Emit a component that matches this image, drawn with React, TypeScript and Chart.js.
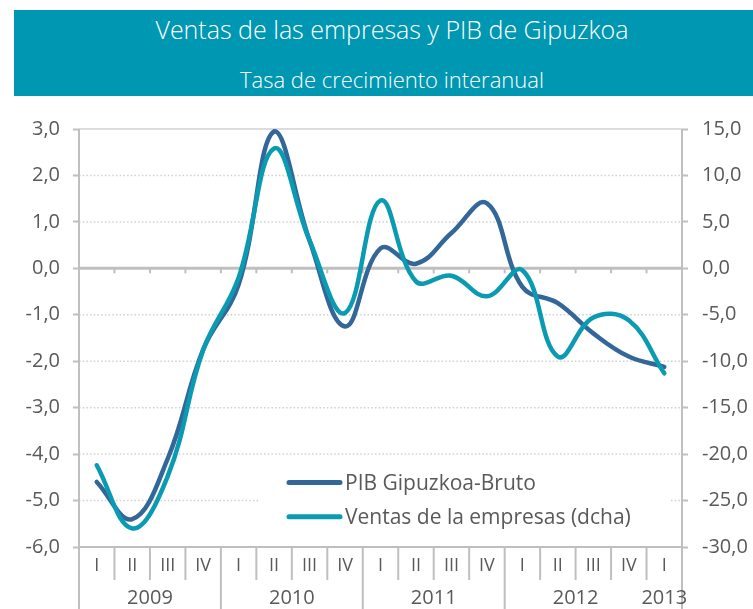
import React, { useEffect, useRef } from 'react';
import { Chart, registerables } from 'chart.js';

Chart.register(...registerables);

// ---- data ----
const quarters = ['I', 'II', 'III', 'IV', 'I', 'II', 'III', 'IV', 'I', 'II', 'III', 'IV', 'I', 'II', 'III', 'IV', 'I'];
const years = ['2009', '2010', '2011', '2012', '2013'];
const yearSpans = [4, 4, 4, 4, 1];
const pibGipuzkoa = [-4.6, -5.4, -4.1, -1.75, -0.35, 2.95, 0.6, -1.25, 0.43, 0.1, 0.76, 1.4, -0.4, -0.75, -1.4, -1.9, -2.12];
const ventasEmpresas = [-21.2, -28.0, -22.4, -8.8, -1.0, 12.9, 3.0, -4.8, 7.3, -1.4, -0.8, -3.0, -0.2, -9.5, -5.3, -5.6, -11.3];
const seriesNames = ['PIB Gipuzkoa-Bruto', 'Ventas de la empresas (dcha)'];
const leftAxisRange = [-6, 3, 1];
const rightAxisRange = [-30, 15, 5];
const titleText = 'Ventas de las empresas y PIB de Gipuzkoa';
const subtitleText = 'Tasa de crecimiento interanual';

const FONT = "'Open Sans', 'Noto Sans', sans-serif";
const BLUE = '#336699';
const TEAL = '#0A9BB2';
const AXIS = '#bfbfbf';
const GRID = '#d0d0d0';
const TEXT = '#595959';

const fmt = (v: number) => (Math.abs(v) < 1e-9 ? 0 : v).toFixed(1).replace('.', ',');

const decor = {
  id: 'decor',
  beforeDatasetsDraw(chart: any) {
    const { ctx, chartArea: a, scales } = chart;
    const y = scales.y;
    const x = scales.x;
    ctx.save();
    // horizontal gridlines
    y.ticks.forEach((t: any) => {
      if (t.value === 0 || t.value === y.min) return;
      const py = y.getPixelForValue(t.value);
      ctx.beginPath();
      ctx.lineWidth = 1.5;
      ctx.strokeStyle = GRID;
      ctx.setLineDash(t.value === y.max ? [] : [1.5, 2.2]);
      ctx.moveTo(a.left, py);
      ctx.lineTo(a.right, py);
      ctx.stroke();
    });
    ctx.setLineDash([]);
    ctx.strokeStyle = AXIS;
    ctx.lineWidth = 2;
    // borders
    ctx.beginPath();
    ctx.moveTo(a.left, a.top);
    ctx.lineTo(a.left, chart.height);
    ctx.moveTo(a.right, a.top);
    ctx.lineTo(a.right, chart.height);
    ctx.moveTo(a.left, a.bottom);
    ctx.lineTo(a.right, a.bottom);
    ctx.stroke();
    // category separators
    const n = quarters.length;
    const yearEnds = new Set<number>();
    let acc = 0;
    yearSpans.slice(0, -2).forEach((s) => { acc += s; yearEnds.add(acc); });
    const y0 = y.getPixelForValue(0);
    for (let i = 1; i < n; i++) {
      const bx = (x.getPixelForValue(i - 1) + x.getPixelForValue(i)) / 2;
      ctx.beginPath();
      ctx.moveTo(bx, a.bottom);
      ctx.lineTo(bx, yearEnds.has(i) ? chart.height : a.bottom + 33);
      ctx.stroke();
      ctx.beginPath();
      ctx.moveTo(bx, y0);
      ctx.lineTo(bx, y0 + 5);
      ctx.stroke();
    }
    // zero line
    ctx.lineWidth = 3;
    ctx.beginPath();
    ctx.moveTo(a.left, y0);
    ctx.lineTo(a.right, y0);
    ctx.stroke();
    ctx.restore();
  },
  afterDraw(chart: any) {
    const { ctx, chartArea: a, scales } = chart;
    const x = scales.x;
    ctx.save();
    // year labels
    ctx.fillStyle = TEXT;
    ctx.font = `20px ${FONT}`;
    ctx.textAlign = 'center';
    ctx.textBaseline = 'middle';
    let start = 0;
    yearSpans.forEach((s, gi) => {
      const end = start + s - 1;
      const left = start === 0 ? a.left : (x.getPixelForValue(start - 1) + x.getPixelForValue(start)) / 2;
      const right = end === quarters.length - 1 ? a.right : (x.getPixelForValue(end) + x.getPixelForValue(end + 1)) / 2;
      ctx.fillText(years[gi], (left + right) / 2, 598);
      start += s;
    });
    // legend
    ctx.fillStyle = '#ffffff';
    ctx.fillRect(258, 457, 412, 83);
    const items = [
      { label: seriesNames[0], color: BLUE, y: 482.5 },
      { label: seriesNames[1], color: TEAL, y: 516.7 },
    ];
    items.forEach((it) => {
      ctx.strokeStyle = it.color;
      ctx.lineWidth = 5;
      ctx.lineCap = 'round';
      ctx.beginPath();
      ctx.moveTo(289, it.y);
      ctx.lineTo(340, it.y);
      ctx.stroke();
      ctx.fillStyle = TEXT;
      ctx.font = `21px ${FONT}`;
      ctx.textAlign = 'left';
      ctx.textBaseline = 'alphabetic';
      ctx.fillText(it.label, 345, it.y + 7.6);
    });
    ctx.restore();
  },
};

function ChartCanvas() {
  const ref = useRef<HTMLCanvasElement | null>(null);
  useEffect(() => {
    if (!ref.current) return;
    const chart = new Chart(ref.current, {
      type: 'line',
      data: {
        labels: quarters,
        datasets: [
          {
            label: seriesNames[0],
            data: pibGipuzkoa,
            yAxisID: 'y',
            borderColor: BLUE,
            backgroundColor: BLUE,
            borderWidth: 4.5,
            pointRadius: 0,
            tension: 0.4,
            borderCapStyle: 'round',
            borderJoinStyle: 'round',
            clip: false,
            order: 1,
          },
          {
            label: seriesNames[1],
            data: ventasEmpresas,
            yAxisID: 'y1',
            borderColor: TEAL,
            backgroundColor: TEAL,
            borderWidth: 4.5,
            pointRadius: 0,
            tension: 0.4,
            borderCapStyle: 'round',
            borderJoinStyle: 'round',
            clip: false,
            order: 0,
          },
        ],
      } as any,
      options: {
        responsive: false,
        animation: false,
        devicePixelRatio: 1,
        layout: { padding: { top: 129, left: 0, right: 0, bottom: 0 } },
        plugins: { legend: { display: false }, tooltip: { enabled: false } },
        scales: {
          x: {
            type: 'category',
            offset: true,
            grid: { display: false, drawTicks: false },
            border: { display: false },
            ticks: { color: TEXT, font: { family: FONT, size: 18 }, padding: 8, maxRotation: 0, autoSkip: false },
            afterFit: (s: any) => { s.height = 62; },
          },
          y: {
            position: 'left',
            min: leftAxisRange[0],
            max: leftAxisRange[1],
            grid: { drawOnChartArea: false, drawTicks: true, tickLength: 6, tickColor: AXIS, tickWidth: 2 },
            border: { display: false },
            ticks: { stepSize: leftAxisRange[2], color: TEXT, font: { family: FONT, size: 20 }, padding: 13, callback: (v: any) => fmt(Number(v)) },
            afterFit: (s: any) => { s.width = 79; },
          },
          y1: {
            position: 'right',
            min: rightAxisRange[0],
            max: rightAxisRange[1],
            grid: { drawOnChartArea: false, drawTicks: true, tickLength: 6, tickColor: AXIS, tickWidth: 2 },
            border: { display: false },
            ticks: { stepSize: rightAxisRange[2], color: TEXT, font: { family: FONT, size: 20 }, padding: 14, callback: (v: any) => fmt(Number(v)) },
            afterFit: (s: any) => { s.width = 71; },
          },
        },
      } as any,
      plugins: [decor],
    });
    return () => chart.destroy();
  }, []);
  return <canvas ref={ref} width={753} height={609} style={{ position: 'absolute', left: 0, top: 0, width: 753, height: 609 }} />;
}

export default function App() {
  return (
    <div style={{ position: 'absolute', left: 0, top: 0, width: 753, height: 609, overflow: 'hidden', background: '#fff' }}>
      <ChartCanvas />
      <div style={{ position: 'absolute', left: 14, top: 10, width: 739, height: 86, background: '#0097B2' }} />
      <div style={{ position: 'absolute', left: 31, top: 14, width: 722, height: 30, lineHeight: '30px', textAlign: 'center', color: '#fff', fontFamily: FONT, fontWeight: 300, fontSize: 25, whiteSpace: 'nowrap' }}>{titleText}</div>
      <div style={{ position: 'absolute', left: 31, top: 65, width: 722, height: 28, lineHeight: '28px', textAlign: 'center', color: '#fff', fontFamily: FONT, fontWeight: 300, fontSize: 22, whiteSpace: 'nowrap' }}>{subtitleText}</div>
    </div>
  );
}
